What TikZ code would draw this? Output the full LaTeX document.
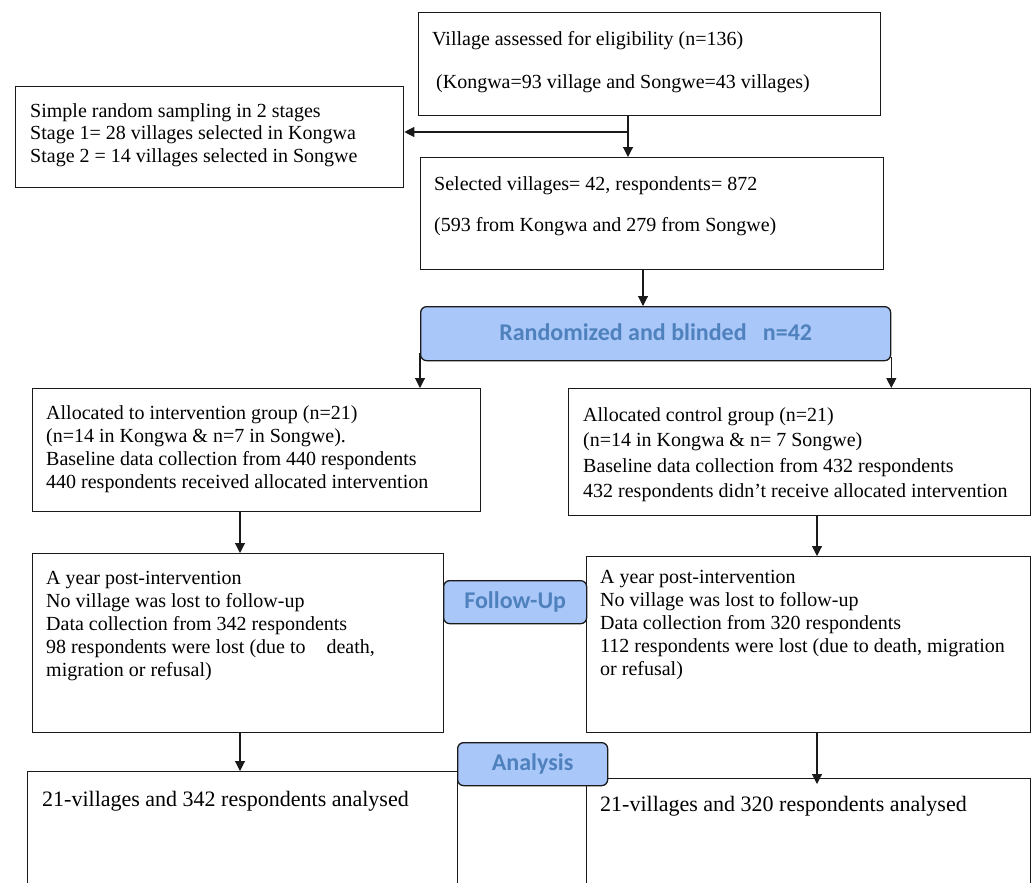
\documentclass[tikz,border=0pt]{standalone}
\usepackage{fontspec}
\setmainfont{Liberation Serif}
\newfontfamily\stagefont{Carlito}
\usepackage{tikz}
\usetikzlibrary{positioning,arrows.meta,calc}
\definecolor{ink}      {HTML}{1A1A1A}
\definecolor{stagefill}{HTML}{A9C7F9}
\definecolor{stagetext}{HTML}{4F81BD}
\tikzset{
  >={Triangle[length=10pt,width=10pt]},
  every node/.style={font=\fontsize{20}{23}\selectfont},
  % --- nodes
  box/.style   = {draw=ink, line width=1.3pt, fill=white, inner sep=0pt, anchor=north west},
  txt/.style   = {anchor=north west, align=left, inner sep=0pt},
  stage/.style = {draw=ink, line width=1.3pt, fill=stagefill, rounded corners=6pt,
                  anchor=north west, inner sep=0pt, text=stagetext,
                  font=\stagefont\bfseries\fontsize{24}{28}\selectfont},
  % --- edges
  e/.style     = {->, line width=1.1pt, draw=ink},
}

\begin{document}
\begin{tikzpicture}[x=1pt,y=-1pt]
  \useasboundingbox (0,0) rectangle (1033,883);
  \clip (0,0) rectangle (1033,883);

  % enrolment
  \node[box, minimum width=462, minimum height=103] (assess) at (418,12) {};
  \node[txt] (assessT) at (432,31) {Village assessed for eligibility (n=136)\\[20pt]
     \hspace*{4pt}(Kongwa=93 village and Songwe=43 villages)};
  \node[box, minimum width=388, minimum height=101] (sample) at (15,86) {};
  \node[txt, font=\fontsize{20}{22.5}\selectfont] (sampleT) at (30,103) {Simple random sampling in 2 stages\\
     Stage 1= 28 villages selected in Kongwa\\Stage 2 = 14 villages selected in Songwe};
  \node[box, minimum width=463, minimum height=112] (select) at (420,157) {};
  \node[txt] (selectT) at (434,176) {Selected villages= 42, respondents= 872\\[18pt]
     (593 from Kongwa and 279 from Songwe)};

  % allocation
  \node[box, minimum width=448, minimum height=123] (intv) at (32,388) {};
  \node[txt, font=\fontsize{20}{23.3}\selectfont] (intvT) at (46,405) {Allocated to intervention group (n=21)\\
     (n=14 in Kongwa \& n=7 in Songwe).\\Baseline data collection from 440 respondents\\
     440 respondents received allocated intervention};
  \node[box, minimum width=462, minimum height=127] (ctrl) at (568,388) {};
  \node[txt, font=\fontsize{20}{25.6}\selectfont] (ctrlT) at (583,407) {Allocated control group (n=21)\\
     (n=14 in Kongwa \& n= 7 Songwe)\\Baseline data collection from 432 respondents\\
     432 respondents didn't receive allocated intervention};

  % follow-up
  \node[box, minimum width=411, minimum height=179] (fuI) at (32,553) {};
  \node[txt] (fuIT) at (46,571) {A year post-intervention\\No village was lost to follow-up\\
     Data collection from 342 respondents\\98 respondents were lost (due to\hspace{21pt}death,\\
     migration or refusal)};
  \node[box, minimum width=444, minimum height=176] (fuC) at (586,556) {};
  \node[txt] (fuCT) at (600,570) {A year post-intervention\\No village was lost to follow-up\\
     Data collection from 320 respondents\\112 respondents were lost (due to death, migration\\
     or refusal)};

  % analysis
  \node[box, minimum width=430, minimum height=200] (anI) at (27,771) {};
  \node[txt, font=\fontsize{22}{26}\selectfont] (anIT) at (42,791) {21-villages and 342 respondents analysed};
  \node[box, minimum width=444, minimum height=200] (anC) at (586,778) {};
  \node[txt, font=\fontsize{22}{26}\selectfont] (anCT) at (600,796) {21-villages and 320 respondents analysed};

  % connectors
  \coordinate (split) at (628,132);
  \coordinate (drop) at (643,0);
  \coordinate (lcol) at (240,0);
  \coordinate (rcol) at (817,0);
  \draw[e] (assess.south -| split) -- (select.north -| split);
  \draw[e] (split) -- (split -| sample.east);

  % stage labels
  \node[stage, minimum width=470, minimum height=54] (rand) at (420,306) {\raisebox{3pt}{Randomized and blinded\ \ \ n=42}};
  \draw[e] (select.south -| drop) -- (rand.north -| drop);
  \draw[e] ([yshift=8pt]rand.south west) -- (intv.north -| rand.south west);
  \draw[e] ([yshift=4pt]rand.south east) -- (ctrl.north -| rand.south east);
  \draw[e] (intv.south -| lcol) -- (fuI.north -| lcol);
  \draw[e] (ctrl.south -| rcol) -- (fuC.north -| rcol);
  \draw[e] (fuI.south -| lcol) -- (anI.north -| lcol);
  \draw[e] (fuC.south -| rcol) -- ([yshift=-6pt]anC.north -| rcol);

  \node[stage, minimum width=143, minimum height=43] (follow) at (443,580) {Follow-Up};
  \node[stage, minimum width=150, minimum height=43] (analysis) at (457,742) {Analysis};
\end{tikzpicture}
\end{document}
